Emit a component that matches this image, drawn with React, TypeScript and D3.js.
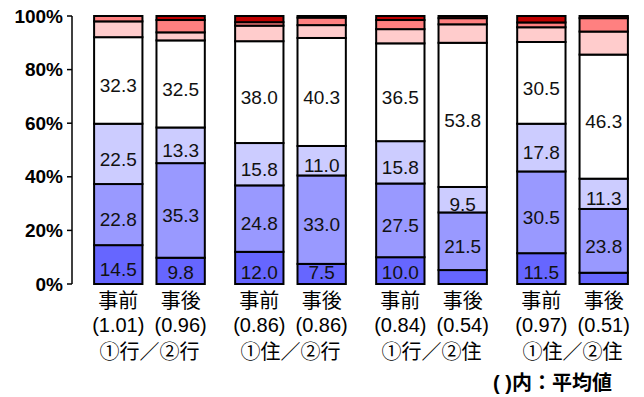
import React from 'react';
import * as d3 from 'd3';

// bottom -> top stacking order
const BAR_NAMES = ['事前', '事後', '事前', '事後', '事前', '事後', '事前', '事後'];
const AVERAGES = ['(1.01)', '(0.96)', '(0.86)', '(0.86)', '(0.84)', '(0.54)', '(0.97)', '(0.51)'];
const GROUPS = ['①行／②行', '①住／②行', '①行／②住', '①住／②住'];

const S1 = [14.5, 9.8, 12.0, 7.5, 10.0, 5.2, 11.5, 4.2];
const S2 = [22.8, 35.3, 24.8, 33.0, 27.5, 21.5, 30.5, 23.8];
const S3 = [22.5, 13.3, 15.8, 11.0, 15.8, 9.5, 17.8, 11.3];
const S4 = [32.3, 32.5, 38.0, 40.3, 36.5, 53.8, 30.5, 46.3];
const S5 = [5.9, 3.0, 5.8, 4.8, 5.3, 6.9, 5.5, 8.6];
const S6 = [2.0, 4.6, 1.3, 2.8, 3.4, 2.3, 1.8, 5.0];
const S7 = [0, 1.5, 2.3, 0.6, 1.5, 0.8, 2.4, 0.8];

const SERIES = [S1, S2, S3, S4, S5, S6, S7];
const KEYS = ['s1', 's2', 's3', 's4', 's5', 's6', 's7'];
const COLORS = ['#6666ff', '#9999ff', '#ccccff', '#ffffff', '#ffcccc', '#ff8080', '#c00000'];
const Y_TICKS = [0, 20, 40, 60, 80, 100];

const LATIN = '"Liberation Sans", Arial, "Noto Sans CJK JP", sans-serif';
const CJK = '"Liberation Sans", "Noto Sans CJK JP", sans-serif';

export default function App() {
  const width = 644;
  const height = 397;

  const y = d3.scaleLinear().domain([0, 100]).range([284, 16]);
  const gx = d3.scaleBand<number>()
    .domain(GROUPS.map((_, i) => i))
    .range([80, 642])
    .paddingInner(0.215)
    .paddingOuter(0.1);
  const bx = d3.scaleBand<number>()
    .domain([0, 1])
    .range([0, gx.bandwidth()])
    .paddingInner(0.225);

  const barX = (i: number) => (gx(Math.floor(i / 2)) as number) + (bx(i % 2) as number);
  const bw = bx.bandwidth();

  const table = BAR_NAMES.map((_, i) => {
    const row: Record<string, number> = {};
    KEYS.forEach((k, s) => { row[k] = SERIES[s][i]; });
    return row;
  });
  const stacked = d3.stack<Record<string, number>>().keys(KEYS)(table);

  return (
    <svg width={width} height={height} style={{ position: 'absolute', left: 0, top: 0 }}>
      {/* y axis */}
      <g>
        <line x1={72} x2={72} y1={y(100)} y2={y(0)} stroke="#000" strokeWidth={1.5} />
        {Y_TICKS.map(t => (
          <g key={t}>
            <line x1={67} x2={72} y1={y(t)} y2={y(t)} stroke="#000" strokeWidth={1.5} />
            <text x={63} y={y(t)} dy="0.35em" textAnchor="end" fontFamily={LATIN}
              fontWeight="bold" fontSize={19} fill="#000">{t}%</text>
          </g>
        ))}
      </g>

      {/* bars */}
      {stacked.map((layer, s) => (
        <g key={layer.key}>
          {layer.map((d, i) => (
            d[1] - d[0] > 0 ? (
              <rect key={i} x={barX(i)} y={y(d[1])} width={bw} height={y(d[0]) - y(d[1])}
                fill={COLORS[s]} stroke="#000" strokeWidth={2} />
            ) : null
          ))}
        </g>
      ))}

      {/* value labels */}
      {stacked.slice(0, 4).map(layer => (
        <g key={'l' + layer.key}>
          {layer.map((d, i) => {
            const v = d[1] - d[0];
            if (v < 7) return null;
            const cy = Math.min((y(d[0]) + y(d[1])) / 2 + 5, 272);
            return (
              <text key={i} x={barX(i) + bw / 2} y={cy} dy="0.35em" textAnchor="middle"
                fontFamily={LATIN} fontSize={19} fill="#111">{v.toFixed(1)}</text>
            );
          })}
        </g>
      ))}

      {/* x labels */}
      {BAR_NAMES.map((n, i) => (
        <g key={'x' + i}>
          <text x={barX(i) + bw / 2} y={308} textAnchor="middle" fontFamily={CJK} fontSize={20} fill="#000">{n}</text>
          <text x={barX(i) + bw / 2} y={332} textAnchor="middle" fontFamily={LATIN} fontSize={20} fill="#000">{AVERAGES[i]}</text>
        </g>
      ))}
      {GROUPS.map((g, i) => (
        <text key={'g' + i} x={(gx(i) as number) + gx.bandwidth() / 2} y={359} textAnchor="middle"
          fontFamily={CJK} fontSize={20} fill="#000">{g}</text>
      ))}
      <text x={612} y={390} textAnchor="end" fontFamily={CJK} fontWeight="bold" fontSize={20} fill="#000">( )内：平均値</text>
    </svg>
  );
}
